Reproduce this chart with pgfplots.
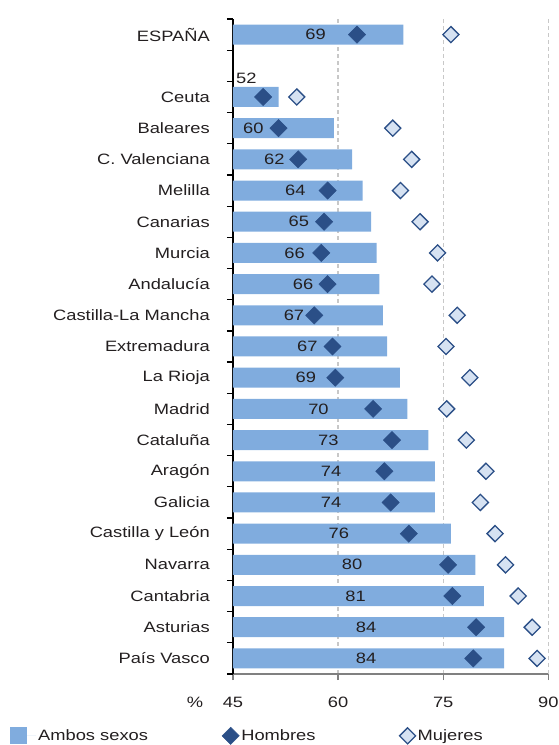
\documentclass[border=0pt]{standalone}
\usepackage{fontspec}
\setmainfont{Liberation Sans}[FakeStretch=1.22]
\usepackage{pgfplots}
\pgfplotsset{compat=1.18}
\usepackage{pgfplotstable}
\definecolor{barblue}{RGB}{128,172,222}
\definecolor{hblue}{RGB}{43,79,135}
\definecolor{mfill}{RGB}{214,226,242}
\definecolor{gridgray}{RGB}{200,200,200}
\definecolor{txt}{RGB}{35,31,32}
\pgfplotstableread{
y amb hom muj lx ly lab
0 83.7 79.3 88.4 64.0 0 84
1 83.7 79.7 87.7 64.0 1 84
2 80.8 76.3 85.7 62.5 2 81
3 79.6 75.7 83.9 62.0 3 80
4 76.1 70.1 82.4 60.1 4 76
5 73.8 67.5 80.3 59.0 5 74
6 73.8 66.6 81.1 59.0 6 74
7 72.9 67.7 78.3 58.6 7 73
8 69.9 65.0 75.5 57.2 8 70
9 68.8 59.6 78.8 55.4 9 69
10 67.0 59.2 75.4 55.6 10 67
11 66.4 56.6 77.0 53.7 11 67
12 65.9 58.5 73.4 55.0 12 66
13 65.5 57.6 74.2 53.8 13 66
14 64.7 58.0 71.7 54.4 14 65
15 63.5 58.5 68.9 53.9 15 64
16 62.0 54.3 70.5 50.9 16 62
17 59.4 51.5 67.8 47.9 17 60
18 51.5 49.3 54.1 46.9 18.6 52
20 69.3 62.7 76.1 56.8 20 69
}\data
\begin{document}
\fontsize{15}{18}\selectfont
\color{txt}
\begin{tikzpicture}
\begin{axis}[
  at={(0pt,0pt)}, anchor=south west,
  scale only axis, width=315.3pt, height=655pt,
  xmin=45, xmax=90, ymin=-0.5, ymax=20.5,
  xtick={45,60,75,90},
  axis x line*=bottom, axis y line*=left,
  x axis line style={-, draw=gray, line width=1.3pt},
  y axis line style={-, draw=black, line width=2pt},
  xmajorgrids,
  major x grid style={draw=gridgray, line width=1.3pt, dash pattern=on 4pt off 3pt},
  tick align=outside,
  x tick style={draw=gray, line width=1.2pt},
  y tick style={draw=black, line width=1.2pt},
  major tick length=6pt,
  ytick={-0.5,0.5,...,20.5},
  y tick label as interval,
  yticklabels={País Vasco, Asturias, Cantabria, Navarra, Castilla y León, Galicia, Aragón, Cataluña, Madrid, La Rioja, Extremadura, Castilla-La Mancha, Andalucía, Murcia, Canarias, Melilla, C. Valenciana, Baleares, Ceuta, {}, ESPAÑA},
  yticklabel style={xshift=-12pt, text=txt},
  xticklabel style={yshift=-12pt, text=txt},
  /pgf/number format/assume math mode=true,
  xlabel={\%},
  xlabel style={at={(axis description cs:0,0)}, anchor=center, xshift=-38pt, yshift=-28pt, text=txt},
  legend columns=3,
  legend style={at={(axis description cs:0,0)}, anchor=north west, xshift=-223pt, yshift=-53pt,
    draw=none, fill=none, inner sep=0pt, font=\fontsize{15}{18}\selectfont,
    /tikz/column 2/.style={column sep=72pt},
    /tikz/column 4/.style={column sep=82pt}},
  legend cell align=left,
]
\addplot[xbar, bar width=20pt, fill=barblue, draw=none,
  legend image code/.code={\fill[barblue] (0pt,-8.5pt) rectangle (17pt,8.5pt); \path (0pt,0pt) -- (26pt,0pt);}]
  table[x=amb, y=y] {\data};
\addlegendentry{Ambos sexos}
\addplot[forget plot, draw=none, mark=none, nodes near coords, point meta=explicit symbolic,
  nodes near coords align={center},
  every node near coord/.append style={font=\fontsize{15}{18}\selectfont, text=txt}]
  table[x=lx, y=ly, meta=lab] {\data};
\addplot[only marks, mark=square*, mark size=6.1pt,
  mark options={rotate=45, fill=hblue, draw=hblue, line width=0.5pt}]
  table[x=hom, y=y] {\data};
\addlegendentry{Hombres}
\addplot[only marks, mark=square*, mark size=5.7pt,
  mark options={rotate=45, fill=mfill, draw=hblue, line width=1.3pt}]
  table[x=muj, y=y] {\data};
\addlegendentry{Mujeres}
\end{axis}
\pgfresetboundingbox
\path[use as bounding box] (-233pt,-71pt) rectangle (325pt,674pt);
\end{tikzpicture}
\end{document}
